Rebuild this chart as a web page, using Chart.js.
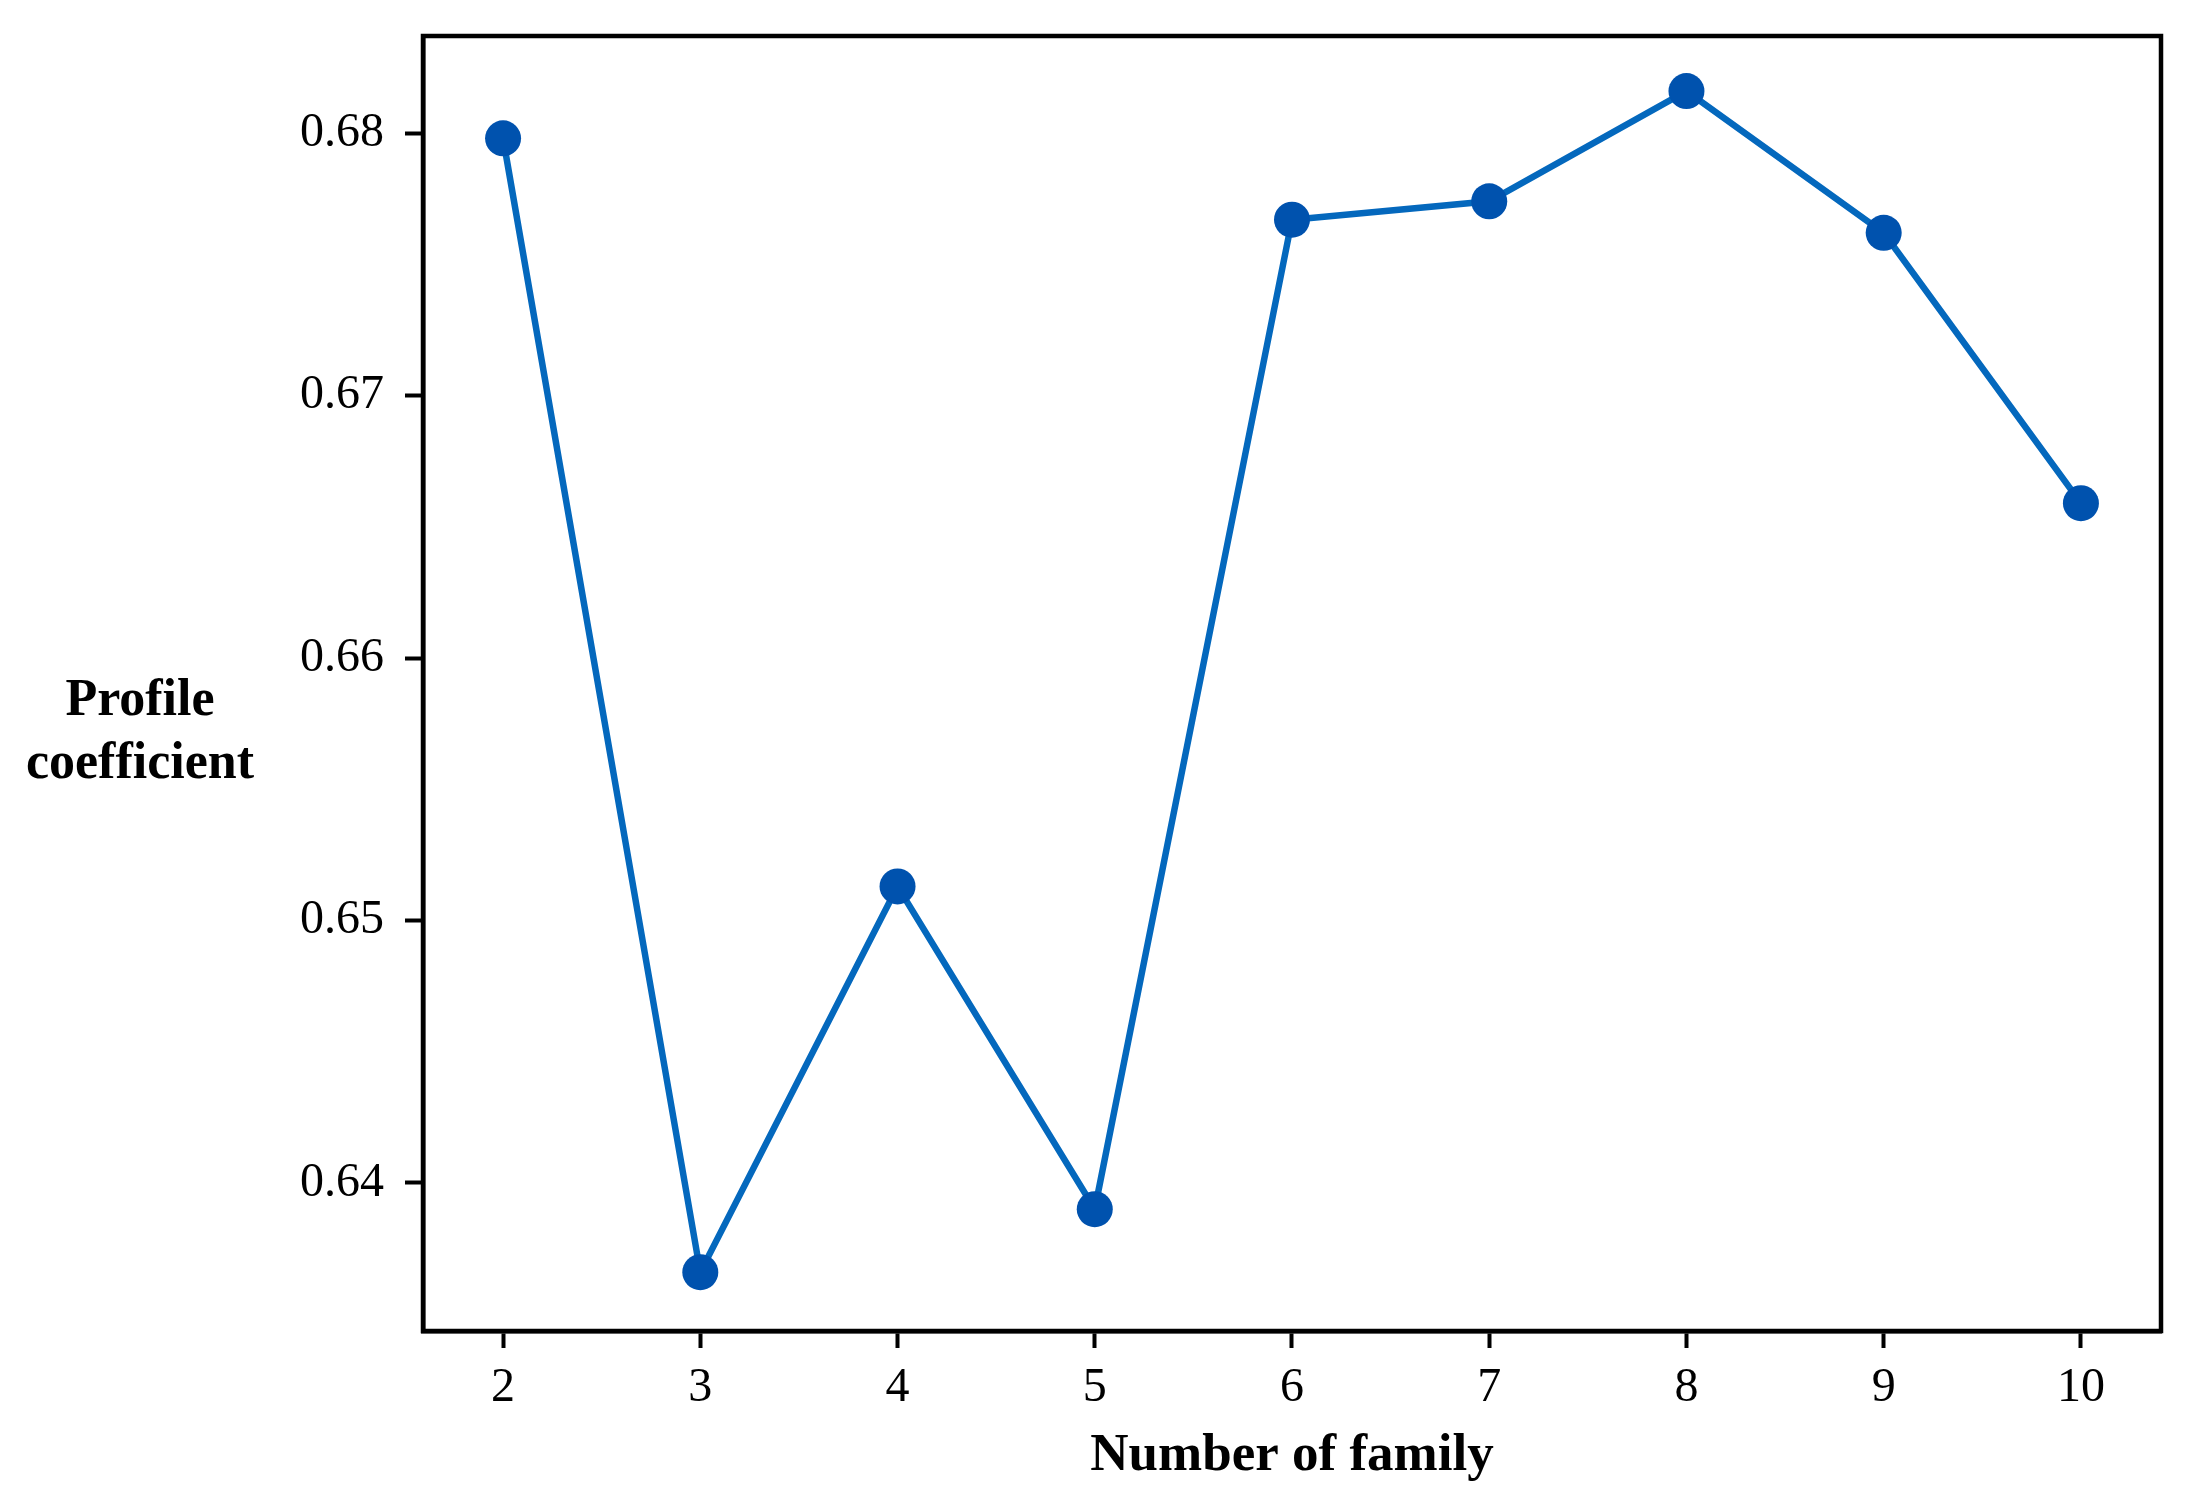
<!DOCTYPE html>
<html>
<head>
<meta charset="utf-8">
<title>Profile coefficient</title>
<script src="https://cdn.jsdelivr.net/npm/chart.js@4.4.1/dist/chart.umd.min.js"></script>
<style>
  html, body { margin: 0; padding: 0; background: #fff; }
  #wrap { width: 2190px; height: 1510px; position: relative; }
</style>
</head>
<body>
<div id="wrap"><canvas id="chart" width="2190" height="1510"></canvas></div>
<script>
// data
var familyCounts = [2, 3, 4, 5, 6, 7, 8, 9, 10];
var profileCoef = [0.6798, 0.6366, 0.6513, 0.6390, 0.6767, 0.6774, 0.6816, 0.6762, 0.6659];
var xTicks = [2, 3, 4, 5, 6, 7, 8, 9, 10];
var yTicks = [0.64, 0.65, 0.66, 0.67, 0.68];

var X_TITLE = 'Number of family';
var Y_TITLE = ['Profile', 'coefficient'];

var LINE_COLOR = '#0468bd';
var POINT_COLOR = '#0052ae';
var SERIF = '"Liberation Serif", "Times New Roman", serif';

var points = familyCounts.map(function (x, i) {
    return { x: x, y: profileCoef[i] };
});

// kotak hitam di sekitar area plot
var frameBox = {
    id: 'frameBox',
    afterDatasetsDraw: function (chart) {
        var a = chart.chartArea;
        var ctx = chart.ctx;
        ctx.save();
        ctx.strokeStyle = '#000';
        ctx.lineWidth = 4.5;
        ctx.strokeRect(a.left, a.top, a.right - a.left, a.bottom - a.top);
        ctx.restore();
    }
};

// judul sumbu Y horizontal, dua baris
var yTitleFlat = {
    id: 'yTitleFlat',
    afterDraw: function (chart) {
        var ctx = chart.ctx;
        var a = chart.chartArea;
        var midY = (a.top + a.bottom) / 2;
        ctx.save();
        ctx.fillStyle = '#000';
        ctx.font = 'bold 52px ' + SERIF;
        ctx.textAlign = 'center';
        ctx.textBaseline = 'alphabetic';
        ctx.fillText(Y_TITLE[0], 140, midY + 31);
        ctx.fillText(Y_TITLE[1], 140, midY + 94);
        ctx.restore();
    }
};

new Chart(document.getElementById('chart').getContext('2d'), {
    type: 'line',
    data: {
        datasets: [{
            data: points,
            borderColor: LINE_COLOR,
            borderWidth: 6.5,
            pointRadius: 18,
            pointHoverRadius: 18,
            pointBackgroundColor: POINT_COLOR,
            pointBorderWidth: 0,
            tension: 0,
            fill: false,
            clip: false
        }]
    },
    options: {
        responsive: false,
        animation: false,
        events: [],
        layout: { padding: { top: 36, right: 29, left: 0, bottom: 0 } },
        plugins: {
            legend: { display: false },
            tooltip: { enabled: false }
        },
        scales: {
            x: {
                type: 'linear',
                min: 1.594,
                max: 10.406,
                afterBuildTicks: function (s) {
                    s.ticks = xTicks.map(function (v) { return { value: v }; });
                },
                afterFit: function (s) { s.height = 179; },
                ticks: {
                    color: '#000',
                    font: { family: SERIF, size: 48 },
                    padding: 12,
                    maxRotation: 0,
                    callback: function (v) { return String(v); }
                },
                grid: {
                    drawOnChartArea: false,
                    drawTicks: true,
                    tickLength: 17,
                    tickWidth: 4,
                    tickColor: '#000'
                },
                border: { display: true, color: '#000', width: 4.5 },
                title: {
                    display: true,
                    text: X_TITLE,
                    color: '#000',
                    font: { family: SERIF, size: 53, weight: 'bold' },
                    padding: { top: 0, bottom: 22 }
                }
            },
            y: {
                type: 'linear',
                min: 0.63436,
                max: 0.68370,
                afterBuildTicks: function (s) {
                    s.ticks = yTicks.map(function (v) { return { value: v }; });
                },
                afterFit: function (s) {
                    s.width = 423;
                    s.paddingTop = 0;
                    s.paddingBottom = 0;
                },
                ticks: {
                    color: '#000',
                    font: { family: SERIF, size: 48 },
                    padding: 21,
                    callback: function (v) { return v.toFixed(2); }
                },
                grid: {
                    drawOnChartArea: false,
                    drawTicks: true,
                    tickLength: 18,
                    tickWidth: 4,
                    tickColor: '#000'
                },
                border: { display: true, color: '#000', width: 4.5 }
            }
        }
    },
    plugins: [frameBox, yTitleFlat]
});
</script>
</body>
</html>
